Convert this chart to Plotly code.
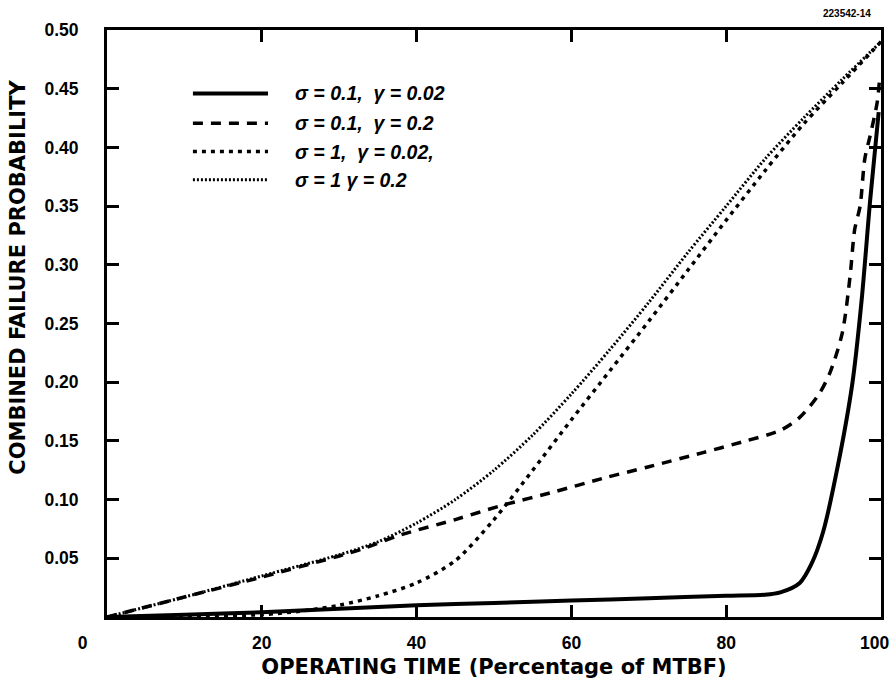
import plotly.graph_objects as go

# ---- data ----
x_s1 = [0, 10, 20, 30, 40, 50, 60, 70, 80, 85, 87, 89.5, 91, 92.5, 94.4, 96.3, 97.5, 98.6, 99.7]
y_s1 = [0, 0.002, 0.004, 0.007, 0.010, 0.012, 0.014, 0.016, 0.018, 0.019, 0.021, 0.029, 0.045,
        0.072, 0.128, 0.199, 0.27, 0.355, 0.43]

x_s2 = [0, 10, 20, 30, 33, 38, 45, 51, 58, 64, 70, 77, 82, 87, 89.5, 92, 93.4, 95, 96, 96.6,
        97.3, 97.9, 98.6, 99.5, 99.8]
y_s2 = [0, 0.017, 0.034, 0.052, 0.058, 0.070, 0.083, 0.095, 0.107, 0.118, 0.128, 0.140, 0.149,
        0.159, 0.17, 0.19, 0.208, 0.242, 0.29, 0.33, 0.35, 0.39, 0.41, 0.438, 0.457]

x_s3 = [0, 10, 20, 25, 30, 35, 40, 45, 50, 55, 60, 65, 70, 75, 80, 85, 90, 95, 100]
y_s3 = [0, 0.0005, 0.002, 0.005, 0.010, 0.018, 0.029, 0.048, 0.083, 0.125, 0.168, 0.21, 0.252,
        0.295, 0.338, 0.38, 0.42, 0.455, 0.49]

x_s4 = [0, 10, 20, 30, 35, 40, 45, 50, 55, 60, 65, 70, 75, 80, 85, 90, 95, 100]
y_s4 = [0, 0.017, 0.035, 0.053, 0.064, 0.080, 0.100, 0.125, 0.155, 0.19, 0.228, 0.268, 0.31,
        0.35, 0.39, 0.425, 0.458, 0.49]

series_labels = ["σ = 0.1,  γ = 0.02", "σ = 0.1,  γ = 0.2", "σ = 1,  γ = 0.02,", "σ = 1 γ = 0.2"]
x_ticks = [0, 20, 40, 60, 80, 100]
# the last label ("100") is drawn as an annotation so it can sit inside the page edge
x_tick_text = ["0" + "\u00a0" * 10, "20", "40", "60", "80", ""]
last_x_label = "100"
y_ticks = [0.05, 0.10, 0.15, 0.20, 0.25, 0.30, 0.35, 0.40, 0.45, 0.50]
y_tick_text = ["0.05", "0.10", "0.15", "0.20", "0.25", "0.30", "0.35", "0.40", "0.45", "0.50"]

styles = [dict(width=4, dash="solid"),
          dict(width=3.5, dash="10px,8px"),
          dict(width=3.5, dash="4px,5px"),
          dict(width=3, dash="2px,2px")]

FONT = "Liberation Sans"
TFONT = "DejaVu Sans"

fig = go.Figure()
for xs, ys, st, name in zip([x_s1, x_s2, x_s3, x_s4], [y_s1, y_s2, y_s3, y_s4], styles, series_labels):
    fig.add_trace(go.Scatter(x=xs, y=ys, mode="lines", name=name, showlegend=False,
                             line=dict(color="black", width=st["width"], dash=st["dash"],
                                       shape="spline", smoothing=0.8)))

# manual legend
leg_y = [0.892, 0.841, 0.793, 0.745]
for yy, st, name in zip(leg_y, styles, series_labels):
    fig.add_shape(type="line", xref="paper", yref="paper", x0=0.111, x1=0.208, y0=yy, y1=yy,
                  line=dict(color="black", width=st["width"], dash=st["dash"]))
    fig.add_annotation(xref="paper", yref="paper", x=0.240, y=yy, xanchor="left", yanchor="middle",
                       text="<b><i>" + name + "</i></b>", showarrow=False,
                       font=dict(family=FONT, size=19.5, color="black"))

fig.add_annotation(xref="paper", yref="paper", x=0.99, y=1.0, yshift=17, xanchor="right",
                   yanchor="middle", text="<b>223542-14</b>", showarrow=False,
                   font=dict(family=FONT, size=10, color="black"))

# "100" tick label, nudged left like in the reference
fig.add_annotation(xref="x", yref="paper", x=x_ticks[-1], y=0, xshift=-7, yshift=-26,
                   xanchor="center", yanchor="middle", text="<b>" + last_x_label + "</b>",
                   showarrow=False, font=dict(family=FONT, size=17.5, color="black"))

# y axis title placed as in the reference (not centred on the plot)
fig.add_annotation(xref="paper", yref="paper", x=0, xshift=-89, y=0.578, xanchor="center",
                   yanchor="middle", textangle=-90, showarrow=False,
                   text="<b>COMBINED FAILURE PROBABILITY</b>",
                   font=dict(family=TFONT, size=21, color="black"))

axis_common = dict(showline=True, linecolor="black", linewidth=3, mirror="ticks",
                   ticks="inside", ticklen=12, tickwidth=2.5, tickcolor="black",
                   showgrid=False, zeroline=False, automargin=False)

fig.update_xaxes(range=[0, 100], tickvals=x_ticks, ticktext=x_tick_text,
                 tickfont=dict(family=FONT, size=17.5, color="black", weight="bold"),
                 ticklabelstandoff=8, ticklabeloverflow="allow",
                 title=dict(text="<b>OPERATING TIME (Percentage of MTBF)</b>",
                            font=dict(family=TFONT, size=21, color="black"), standoff=8),
                 **axis_common)
fig.update_yaxes(range=[0, 0.5], tickvals=y_ticks, ticktext=y_tick_text,
                 tickfont=dict(family=FONT, size=17.5, color="black", weight="bold"),
                 ticklabelstandoff=22, ticklabeloverflow="allow",
                 **axis_common)

fig.update_layout(width=893, height=690, plot_bgcolor="white", paper_bgcolor="white",
                  margin=dict(l=107, r=12, t=30, b=73),
                  font=dict(family=FONT, color="black"))

fig.write_html("out.html", config={"displayModeBar": False},
               post_script="document.body.style.margin='0';document.body.style.overflow='hidden';")
